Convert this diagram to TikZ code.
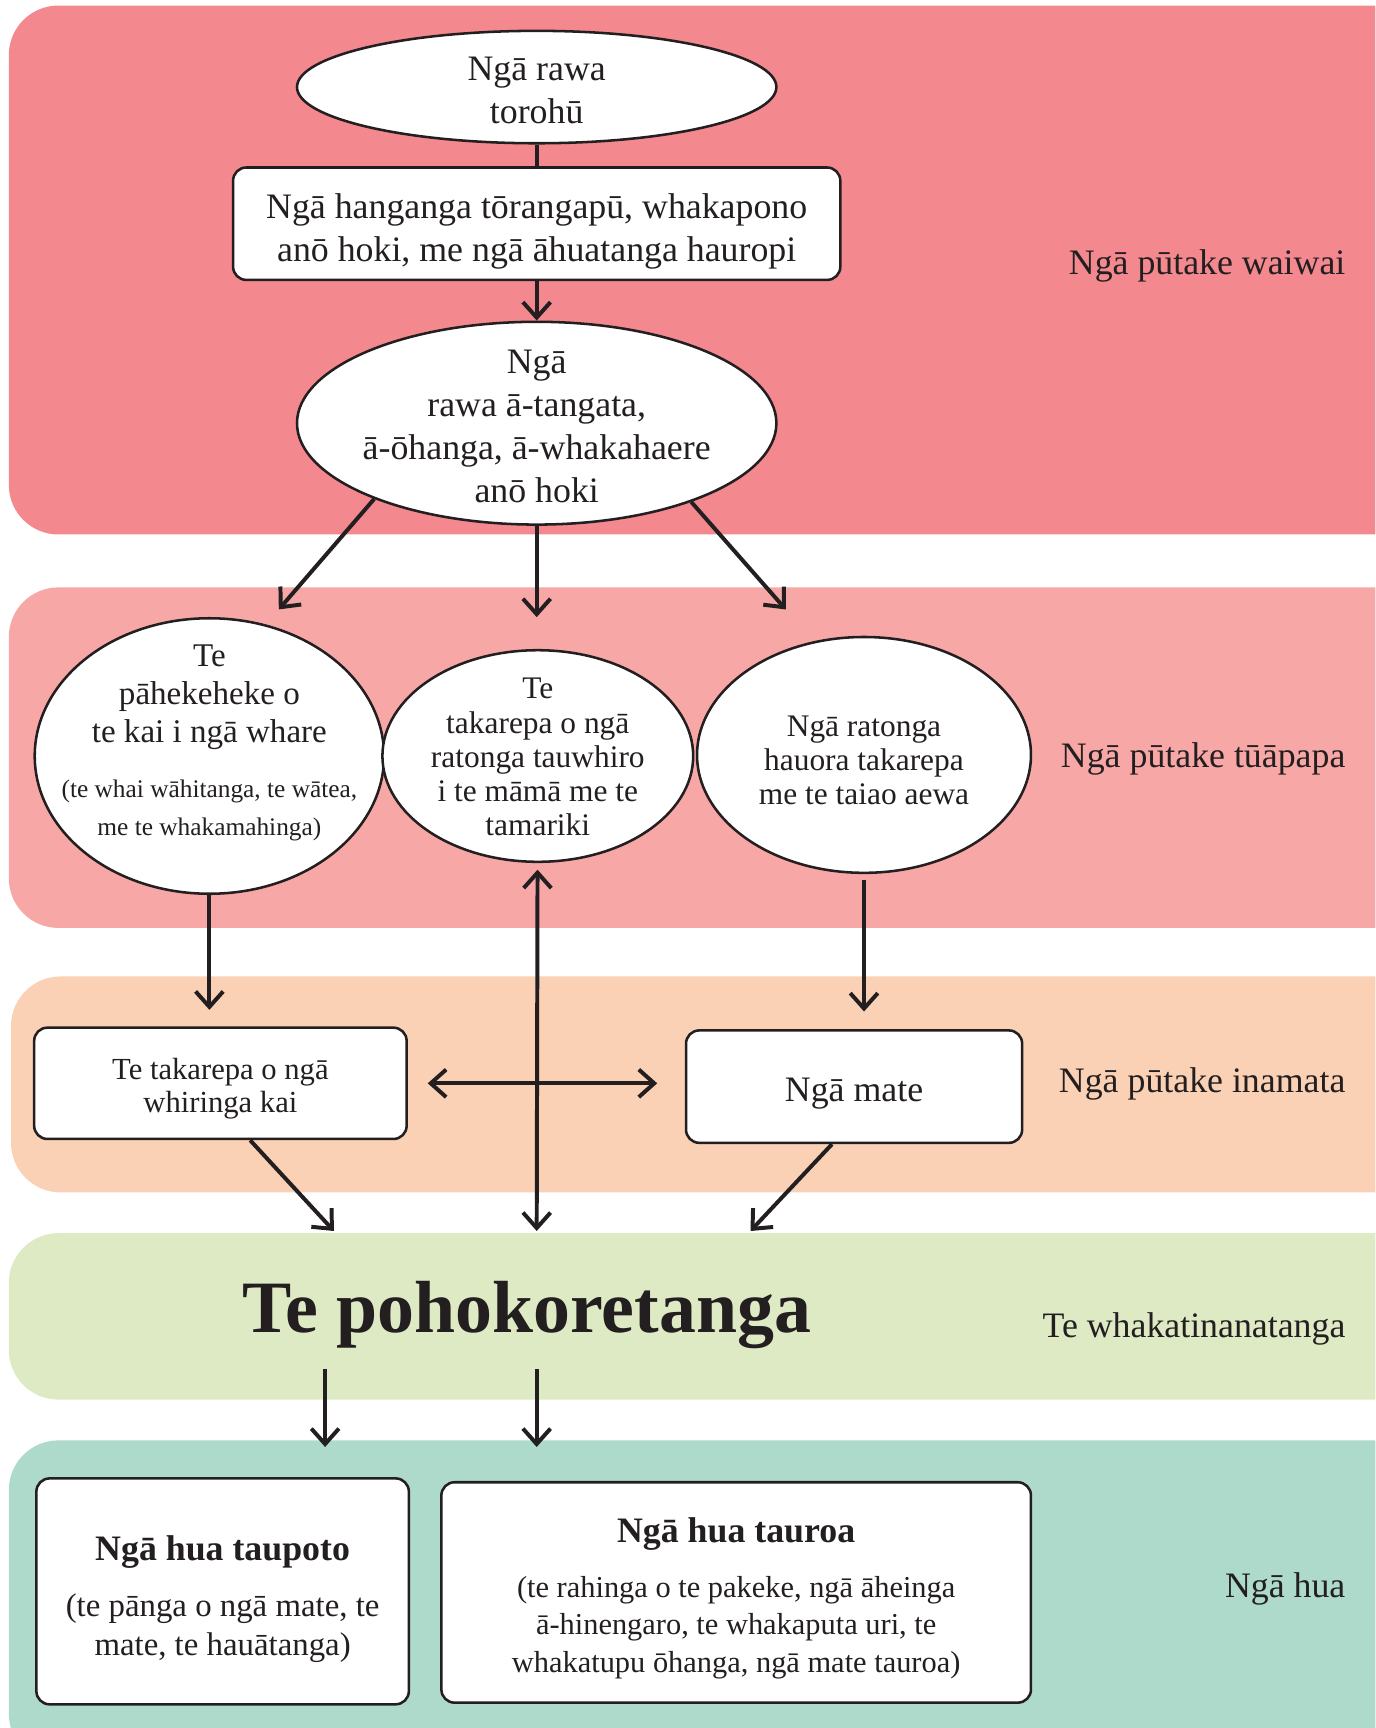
\documentclass[tikz,border=0pt]{standalone}
\usepackage{fontspec}
\setmainfont{Liberation Serif}
\usetikzlibrary{arrows.meta, shapes.geometric}

\definecolor{ink}{HTML}{231F20}
\definecolor{bandA}{HTML}{F3888F}
\definecolor{bandB}{HTML}{F7A8A6}
\definecolor{bandC}{HTML}{FAD1B5}
\definecolor{bandD}{HTML}{DEEAC4}
\definecolor{bandE}{HTML}{ADDACB}

\newcommand{\fmain}{\fontsize{32.5}{39}\selectfont}
\newcommand{\fmid}{\fontsize{30}{34.5}\selectfont}
\newcommand{\fsmall}{\fontsize{28.5}{31}\selectfont}
\newcommand{\fnote}{\fontsize{23}{32}\selectfont}
\newcommand{\fhuge}{\fontsize{67}{72}\selectfont\bfseries}
\newcommand{\fhead}{\bfseries\fontsize{32.5}{36}\selectfont}

\begin{document}
\begin{tikzpicture}[
        x=1pt, y=-1pt,
        every node/.style={text=ink},
        oval/.style={ellipse, draw=ink, fill=white, line width=2.3pt, inner sep=0pt},
        box/.style={draw=ink, fill=white, line width=2.3pt, rounded corners=12pt, inner sep=0pt},
        words/.style={align=center, text=ink},
        lane/.style={anchor=east, font=\fmain, inner sep=0pt},
        stem/.style={line width=3.6pt, draw=ink},
        link/.style={-{Straight Barb[length=14pt, width=25pt]}, line width=3.6pt, draw=ink},
        twoway/.style={{Straight Barb[length=14pt, width=25pt]}-{Straight Barb[length=14pt, width=25pt]}, line width=3.6pt, draw=ink},
        band/.style={rounded corners=45pt}
    ]

    \useasboundingbox (0,0) rectangle (1248,1568);
    \clip (0,0) rectangle (1248,1568);

    % background bands
    \fill[bandA, band] (8,5) rectangle (1300,485);
    \fill[bandB, band] (8,533) rectangle (1300,842);
    \fill[bandC, band] (10,886) rectangle (1300,1082);
    \fill[bandD, band] (8,1119) rectangle (1300,1270);
    \fill[bandE, band] (8,1307) rectangle (1300,1600);

    % Nga putake waiwai
    \node[oval, minimum width=435pt, minimum height=102pt,
        label={[words, font=\fmain, yshift=-3pt]center:{Ngā rawa\\torohū}}] (torohu) at (487,79) {};
    \node[box, minimum width=551pt, minimum height=102pt,
        label={[words, font=\fmain, yshift=-7pt]center:{Ngā hanganga tōrangapū, whakapono\\anō hoki, me ngā āhuatanga hauropi}}] (hanganga) at (487,203) {};
    \node[oval, minimum width=435pt, minimum height=184pt,
        label={[words, font=\fmain, yshift=-3pt]center:{Ngā\\rawa ā-tangata,\\ā-ōhanga, ā-whakahaere\\anō hoki}}] (rawa) at (487,384) {};
    \node[lane] (waiwai) at (1221,241) {Ngā pūtake waiwai};

    \coordinate (tipL) at (253,553);
    \coordinate (tipM) at (487,560);
    \coordinate (tipR) at (713,553);

    \draw[stem] (torohu) -- (hanganga);
    \draw[link] (hanganga) -- (rawa);
    \draw[link] (rawa.205) -- (tipL);
    \draw[link] (rawa) -- (tipM);
    \draw[link] (rawa.333) -- (tipR);

    % Nga putake tuapapa
    \node[oval, minimum width=317pt, minimum height=250pt,
        label={[words, font=\fmid, yshift=12pt]center:{Te\\pāhekeheke o\\te kai i ngā whare\\[16pt]\fnote (te whai wāhitanga, te wātea,\\\fnote me te whakamahinga)}}] (pahe) at (190,686) {};
    \node[oval, minimum width=282pt, minimum height=192pt,
        label={[words, font=\fsmall, yshift=-1pt]center:{Te\\takarepa o ngā\\ratonga tauwhiro\\i te māmā me te\\tamariki}}] (tauwhiro) at (488,686) {};
    \node[oval, minimum width=303pt, minimum height=214pt,
        label={[words, font=\fsmall, yshift=-5pt]center:{Ngā ratonga\\hauora takarepa\\me te taiao aewa}}] (hauora) at (784,685) {};
    \node[lane] (tuapapa) at (1221,689) {Ngā pūtake tūāpapa};

    % Nga putake inamata
    \node[box, minimum width=338pt, minimum height=101pt,
        label={[words, font=\fontsize{27.8}{30}\selectfont, yshift=-5pt]center:{Te takarepa o ngā\\whiringa kai}}] (whiringa) at (200,983) {};
    \node[box, minimum width=305pt, minimum height=102pt,
        label={[words, font=\fmain, yshift=-6pt]center:{Ngā mate}}] (mate) at (775,986) {};
    \node[lane] (inamata) at (1221,984) {Ngā pūtake inamata};

    \draw[link, shorten >=15pt] (pahe) -- (pahe.south |- whiringa.north);
    \draw[link, shorten <=5pt, shorten >=16pt] (hauora) -- (hauora.south |- mate.north);
    \draw[twoway, shorten <=18pt, shorten >=25pt] (whiringa.east) -- (whiringa.east -| mate.west);

    % Te whakatinanatanga
    \node[font=\fhuge] (poho) at (478,1193) {Te pohokoretanga};
    \node[lane] (tinana) at (1221,1206) {Te whakatinanatanga};

    \coordinate (inL) at (303,1117);
    \coordinate (inM) at (487,1117);
    \coordinate (inR) at (681,1117);

    \draw[link] ([xshift=27pt]whiringa.south) -- (inL);
    \draw[twoway, shorten <=6pt] (tauwhiro) -- (inM);
    \draw[link] ([xshift=-20pt]mate.south) -- (inR);

    \coordinate (outL) at (295,1242);
    \coordinate (outM) at (487,1242);
    \coordinate (endL) at (295,1313);
    \coordinate (endM) at (487,1313);

    \draw[link] (outL) -- (endL);
    \draw[link] (outM) -- (endM);

    % Nga hua
    \node[box, minimum width=338pt, minimum height=205pt,
        label={[words, font=\fontsize{29.8}{36}\selectfont, yshift=-7pt]center:{\fhead Ngā hua taupoto\\[15pt](te pānga o ngā mate, te\\mate, te hauātanga)}}] (taupoto) at (202,1444) {};
    \node[box, minimum width=535pt, minimum height=200pt,
        label={[words, font=\fontsize{27.6}{34}\selectfont, yshift=-5pt]center:{\fhead Ngā hua tauroa\\[16pt](te rahinga o te pakeke, ngā āheinga\\ā-hinengaro, te whakaputa uri, te\\whakatupu ōhanga, ngā mate tauroa)}}] (tauroa) at (668,1445) {};
    \node[lane] (hua) at (1221,1442) {Ngā hua};

\end{tikzpicture}
\end{document}
